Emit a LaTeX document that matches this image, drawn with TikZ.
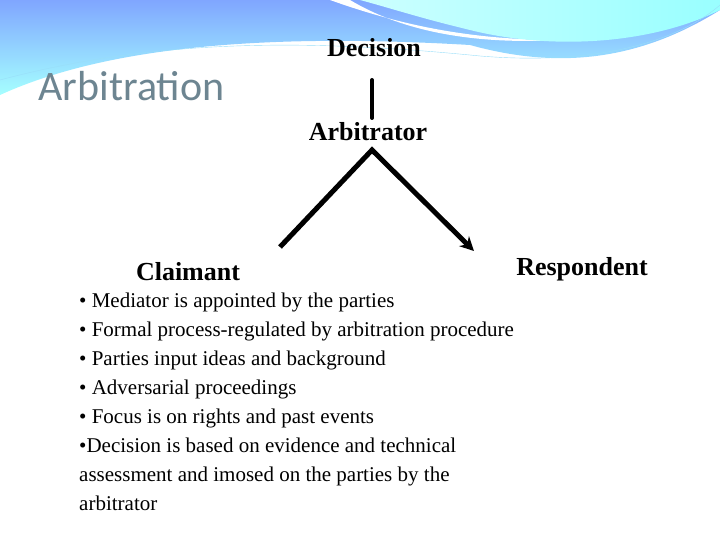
\documentclass[tikz,border=0pt]{standalone}
\usepackage{fontspec}
\usetikzlibrary{arrows.meta}
\setmainfont{Liberation Serif}
\newfontfamily\carlitofam{Carlito}
\begin{document}
\begin{tikzpicture}[x=1pt,y=-1pt,
 lbl/.style={font=\bfseries\fontsize{26}{30}\selectfont,inner sep=0pt},
 arr/.style={line width=5pt,-{Stealth[length=14pt,width=14pt]}}]
\useasboundingbox (0,0) rectangle (720,540);
\shade[top color=cyan!30!blue!50!white,bottom color=cyan!50!white!70]
 (0,0) -- (720,0) -- (720,10) .. controls (640,60) and (560,70) .. (470,45)
 .. controls (300,35) and (120,40) .. (0,95) -- cycle;
\fill[white] (330,0) .. controls (400,25) and (470,40) .. (560,40)
 .. controls (470,45) and (400,30) .. (350,0) -- cycle;
\shade[left color=cyan!20!white,right color=cyan!40!white]
 (360,0) -- (720,0) -- (720,10) .. controls (650,45) and (550,50) .. (470,30) .. controls (420,18) and (390,8) .. (360,0) -- cycle;
\draw[cyan!40,thin] (0,80) .. controls (150,40) and (300,38) .. (480,56) .. controls (600,66) and (680,40) .. (720,5);
\node[font=\carlitofam\fontsize{42}{48}\selectfont,text=cyan!35!black!75,anchor=west] (t) at (35,86) {Arbitration};
\node[lbl] (d) at (374,48) {Decision};
\node[lbl] (a) at (368,132) {Arbitrator};
\node[lbl] (c) at (188,272) {Claimant};
\node[lbl] (r) at (582,269) {Respondent};
\draw[line width=4pt,line cap=round] (372,118) -- (372,80);
\coordinate (ap) at (372,150);
\draw[arr,line join=miter] (280,247) -- (ap) -- (474,251);
\node[anchor=north west,align=left,inner sep=0pt,font=\fontsize{21}{29}\selectfont] (b) at (79,293) {%
• Mediator is appointed by the parties\\
• Formal process-regulated by arbitration procedure\\
• Parties input ideas and background\\
• Adversarial proceedings\\
• Focus is on rights and past events\\
•Decision is based on evidence and technical\\
assessment and imosed on the parties by the\\
arbitrator};
\end{tikzpicture}
\end{document}
